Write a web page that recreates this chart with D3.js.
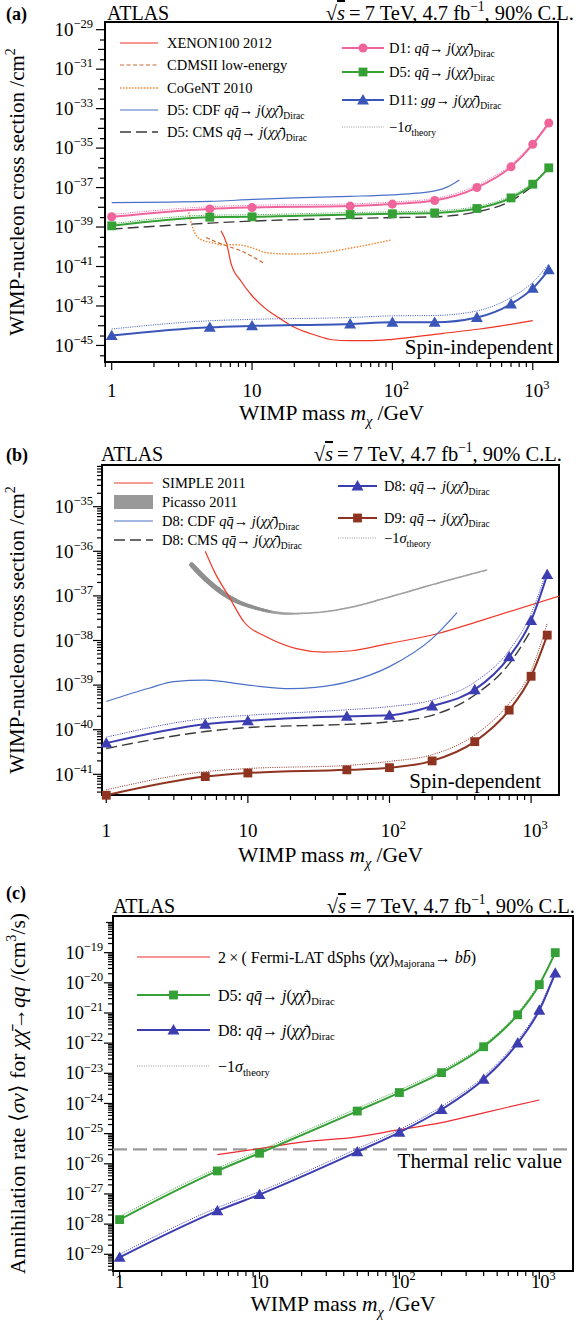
<!DOCTYPE html>
<html><head><meta charset="utf-8">
<script src="https://cdn.jsdelivr.net/npm/d3@7"></script>
<style>
body{margin:0;background:#fff;}
svg{display:block;font-family:"Liberation Serif","Times New Roman",serif;}
</style></head><body>
<svg id="c" width="578" height="1320"></svg>
<script>
// ---------------- DATA ----------------
const mass = [1, 5, 10, 50, 100, 200, 400, 700, 1000, 1300];
const massCMS = [1, 5, 10, 50, 100, 200, 400, 700, 1000];

// (a) spin-independent
const siD1   = [3.3e-39, 8.3e-39, 9.8e-39, 1.15e-38, 1.45e-38, 2.2e-38, 1.0e-37, 1.12e-36, 1.55e-35, 1.86e-34];
const siD1m  = [4.3e-39, 1.07e-38, 1.26e-38, 1.48e-38, 1.86e-38, 2.8e-38, 1.32e-37, 1.48e-36, 1.9e-35, 2.1e-34];
const siD5   = [1.15e-39, 3.16e-39, 3.3e-39, 4.3e-39, 4.7e-39, 5.2e-39, 8.7e-39, 3.0e-38, 1.48e-37, 1.0e-36];
const siD5m  = [1.45e-39, 4.0e-39, 4.2e-39, 5.4e-39, 5.9e-39, 6.6e-39, 1.1e-38, 3.8e-38, 1.78e-37, 1.12e-36];
const siD11  = [3.16e-45, 8.3e-45, 9.8e-45, 1.23e-44, 1.48e-44, 1.48e-44, 2.6e-44, 1.26e-43, 7.8e-43, 6.8e-42];
const siD11m = [6.8e-45, 1.78e-44, 2.1e-44, 2.6e-44, 3.16e-44, 3.3e-44, 5.6e-44, 2.7e-43, 1.58e-42, 1.35e-41];
const siCMS  = [7.9e-40, 1.58e-39, 2.0e-39, 2.7e-39, 3.0e-39, 3.3e-39, 5.9e-39, 2.1e-38, 1.2e-37];
const siCDFmass = [1, 5, 10, 20, 50, 100, 150, 200, 250, 300];
const siCDF  = [1.74e-38, 2.0e-38, 2.5e-38, 3.0e-38, 3.6e-38, 4.3e-38, 5.2e-38, 6.8e-38, 1.12e-37, 2.4e-37];
const xenonMass = [6.0, 6.6, 7.1, 8.3, 10, 12.6, 16, 20, 28, 37, 50, 68, 100, 230, 420, 1000];
const xenon  = [6.5e-40, 1.4e-40, 1.35e-41, 1.9e-42, 3.3e-43, 6.9e-44, 2.2e-44, 8.3e-45, 3.4e-45, 1.95e-45, 1.75e-45, 1.75e-45, 2.05e-45, 4.1e-45, 6.8e-45, 1.8e-44];
const cdmsMass = [4.7, 6.1, 8.3, 12.2];
const cdms   = [2.95e-40, 1.35e-40, 6.3e-41, 1.45e-41];
const cogentMass = [3.5, 3.66, 3.9, 4.25, 5.1, 6.1, 7.8, 9.9, 12.6, 18, 27.6, 50, 98];
const cogent = [7.9e-39, 2.0e-39, 5.2e-40, 2.45e-40, 1.66e-40, 1.26e-40, 1.26e-40, 9.1e-41, 5.1e-41, 4.3e-41, 4.6e-41, 8.5e-41, 2.2e-40];

// (b) spin-dependent
const sdD8   = [5.0e-41, 1.32e-40, 1.58e-40, 2.0e-40, 2.1e-40, 3.4e-40, 7.9e-40, 4.3e-39, 2.8e-38, 3.0e-37];
const sdD8m  = [6.8e-41, 1.78e-40, 2.1e-40, 2.8e-40, 3.3e-40, 4.6e-40, 1.17e-39, 6.0e-39, 4.0e-38, 4.1e-37];
const sdD9   = [3.4e-42, 8.9e-42, 1.07e-41, 1.26e-41, 1.41e-41, 2.0e-41, 5.4e-41, 2.75e-40, 1.58e-39, 1.32e-38];
const sdD9m  = [4.5e-42, 1.15e-41, 1.35e-41, 1.58e-41, 1.95e-41, 2.75e-41, 7.6e-41, 3.9e-40, 2.1e-39, 2.45e-38];
const sdCMS  = [3.8e-41, 9.1e-41, 1.12e-40, 1.32e-40, 1.5e-40, 2.1e-40, 6.0e-40, 3.0e-39, 1.7e-38];
const sdCDFmass = [1, 2, 3, 5, 10, 20, 30, 50, 100, 200, 300];
const sdCDF  = [4.3e-40, 8.5e-40, 1.2e-39, 1.29e-39, 1.0e-39, 8.3e-40, 8.9e-40, 1.17e-39, 2.6e-39, 1.1e-38, 4.2e-38];
const simpleMass = [5.0, 5.8, 7.4, 9.4, 13.6, 22, 34.5, 54, 98, 210, 442, 1600];
const simple = [1.0e-36, 3.5e-37, 9.3e-38, 2.6e-38, 1.2e-38, 6.6e-39, 5.5e-39, 5.9e-39, 8.5e-39, 1.38e-38, 2.8e-38, 1.0e-37];
const picassoMass = [4.0, 5.17, 7.4, 12, 19.4, 29.6, 54, 98, 210, 485];
const picasso = [5.0e-37, 2.2e-37, 9.3e-38, 5.1e-38, 4.0e-38, 4.2e-38, 5.6e-38, 9.3e-38, 1.86e-37, 3.8e-37];

// (c) annihilation rate
const annD5  = [1.41e-28, 5.8e-27, 2.24e-26, 5.6e-25, 2.3e-24, 1.05e-23, 7.6e-23, 8.7e-22, 8.7e-21, 1.0e-19];
const annD5m = [1.78e-28, 7.1e-27, 2.75e-26, 6.9e-25, 2.8e-24, 1.26e-23, 8.9e-23, 1.0e-21, 1.0e-20, 1.07e-19];
const annD8  = [7.9e-30, 2.75e-28, 9.5e-28, 2.5e-26, 1.1e-25, 6.3e-25, 6.3e-24, 1.0e-22, 1.23e-21, 2.1e-20];
const annD8m = [1.0e-29, 3.5e-28, 1.2e-27, 3.16e-26, 1.35e-25, 7.9e-25, 7.9e-24, 1.26e-22, 1.5e-21, 2.5e-20];
const fermiMass = [5, 10, 20, 50, 100, 200, 400, 1000];
const fermi  = [2.0e-26, 3.2e-26, 5.2e-26, 7.8e-26, 1.35e-25, 2.3e-25, 4.9e-25, 1.3e-24];
const thermalRelic = 3e-26;

// tick labels
const xTickVals = [1, 10, 100, 1000];
const xTickExp  = [null, null, "2", "3"];
const siTickExp = [-29, -31, -33, -35, -37, -39, -41, -43, -45];
const sdTickExp = [-35, -36, -37, -38, -39, -40, -41];
const annTickExp = [-19, -20, -21, -22, -23, -24, -25, -26, -27, -28, -29];

// ---------------- HELPERS ----------------
const FONT = '"Liberation Serif","Times New Roman",serif';
const svg = d3.select('#c');
svg.append('rect').attr('width', 578).attr('height', 1320).attr('fill', '#fff');

function rich(g, x, y, parts, fs, anchor) {
  const t = g.append('text').attr('x', x).attr('y', y).attr('font-size', fs)
    .attr('font-family', FONT)
    .attr('text-anchor', anchor || 'start').attr('fill', '#000');
  let cur = 0;
  for (const [s, k] of parts) {
    const sp = t.append('tspan').text(s);
    let off = 0, size = fs;
    if (k === 'i') sp.attr('font-style', 'italic');
    if (k === 'b') sp.attr('font-weight', 'bold');
    if (k === 'sub' || k === 'isub') { off = fs * 0.3; size = fs * 0.66; }
    if (k === 'sup') { off = -fs * 0.42; size = fs * 0.66; }
    if (k === 'isub') sp.attr('font-style', 'italic');
    if (k === 'ov') sp.attr('font-style', 'italic').attr('text-decoration', 'overline');
    if (size !== fs) sp.attr('font-size', size);
    if (off !== cur) { sp.attr('dy', off - cur); cur = off; }
  }
  return t;
}

const QQ = [['q', 'i'], ['q\u0304', 'i'], ['\u2192 ', 'n'], ['j', 'i'], ['(', 'n'], ['\u03c7\u03c7\u0304', 'i'], [')', 'n'], ['Dirac', 'sub']];
const SIGMA = [['\u22121', 'n'], ['\u03c3', 'i'], ['theory', 'sub']];

let clipN = 0;
function makePanel(p) {
  const g = svg.append('g');
  const [L, T, R, B] = p.box;
  const x = d3.scaleLog().domain(p.xDomain).range([L, R]);
  const y = d3.scaleLog().domain(p.yDomain).range([B, T]);
  const id = 'clip' + (clipN++);
  svg.append('clipPath').attr('id', id).append('rect')
    .attr('x', L).attr('y', T).attr('width', R - L).attr('height', B - T);
  const P = { g, x, y, clip: 'url(#' + id + ')', L, T, R, B };

  // x ticks
  const xt = g.append('g').attr('stroke', '#000').attr('stroke-width', 1.2);
  for (let d = -1; d <= 4; d++) for (let m = 1; m <= 9; m++) {
    const v = m * Math.pow(10, d);
    if (v < p.xDomain[0] || v > p.xDomain[1]) continue;
    const len = m === 1 ? 8 : 5;
    xt.append('line').attr('x1', x(v)).attr('x2', x(v)).attr('y1', B).attr('y2', B + len);
  }
  xTickVals.forEach((v, i) => {
    const parts = xTickExp[i] ? [['10', 'n'], [xTickExp[i], 'sup']] : [[String(v), 'n']];
    rich(g, x(v) + (xTickExp[i] ? 4 : 0), p.xLabY, parts, p.tickFs, 'middle');
  });

  // y ticks
  const yt = g.append('g').attr('stroke', '#000').attr('stroke-width', 1.2);
  const lo = Math.floor(Math.log10(p.yDomain[0])), hi = Math.ceil(Math.log10(p.yDomain[1]));
  for (let d = lo; d <= hi; d++) {
    [1].concat(p.yMinor).forEach(m => {
      const v = m * Math.pow(10, d);
      if (v < p.yDomain[0] || v > p.yDomain[1]) return;
      const len = (m === 1 && p.yLabelExp.includes(d)) ? 9 : (m === 1 ? 7 : 5);
      yt.append('line').attr('x1', L - len).attr('x2', L).attr('y1', y(v)).attr('y2', y(v));
    });
  }
  p.yLabelExp.forEach(e => {
    rich(g, p.yLabX, y(Math.pow(10, e)) + p.tickFs * 0.33,
      [['10', 'n'], ['\u2212' + Math.abs(e), 'sup']], p.tickFs, 'end');
  });

  // frame
  g.append('rect').attr('x', L).attr('y', T).attr('width', R - L).attr('height', B - T)
    .attr('fill', 'none').attr('stroke', '#000').attr('stroke-width', 2);

  // header
  rich(g, 6, p.tagY, [[p.tag, 'b']], 18, 'start');
  rich(g, p.atlasX, p.headY, [['ATLAS', 'n']], 20, 'start');
  rich(g, p.headR, p.headY, [['\u221a', 'n'], ['s', 'ov'], ['\u2009=\u20097 TeV, 4.7 fb', 'n'], ['\u22121', 'sup'], [', 90% C.L.', 'n']], 20.5, 'end');

  // axis titles
  rich(g, (L + R) / 2, p.xTitleY, [['WIMP mass ', 'n'], ['m', 'i'], ['\u03c7', 'isub'], [' /GeV', 'n']], 21.5, 'middle');
  const yt2 = rich(g, 0, 0, p.yTitle, p.yTitleFs, 'middle');
  yt2.attr('transform', `translate(${p.yTitleX},${(T + B) / 2}) rotate(-90)`);
  return P;
}

function curve(P, xs, ys, st) {
  const line = d3.line().x(d => P.x(d[0])).y(d => P.y(d[1])).curve(d3.curveMonotoneX);
  const path = P.g.append('path').attr('d', line(xs.map((v, i) => [v, ys[i]])))
    .attr('fill', 'none').attr('clip-path', P.clip)
    .attr('stroke', st.c).attr('stroke-width', st.w || 1.2);
  if (st.dash) path.attr('stroke-dasharray', st.dash);
  return path;
}

const symType = { circle: d3.symbolCircle, square: d3.symbolSquare, triangle: d3.symbolTriangle };
const symSize = { circle: 64, square: 78, triangle: 62 };
function markers(P, xs, ys, type, color) {
  const s = d3.symbol().type(symType[type]).size(symSize[type]);
  xs.forEach((v, i) => {
    P.g.append('path').attr('d', s()).attr('fill', color)
      .attr('transform', `translate(${P.x(v)},${P.y(ys[i]) + (type === 'triangle' ? 1 : 0)})`);
  });
}

function legend(P, x0, x1, y, st, marker, parts, tx, fs) {
  if (st.rect) {
    P.g.append('rect').attr('x', x0).attr('y', y - 7).attr('width', x1 - x0).attr('height', 14).attr('fill', st.c);
  } else {
    const l = P.g.append('line').attr('x1', x0).attr('x2', x1).attr('y1', y).attr('y2', y)
      .attr('stroke', st.c).attr('stroke-width', st.w || 1.2);
    if (st.dash) l.attr('stroke-dasharray', st.dash);
  }
  if (marker) {
    const s = d3.symbol().type(symType[marker]).size(symSize[marker]);
    P.g.append('path').attr('d', s()).attr('fill', st.c)
      .attr('transform', `translate(${(x0 + x1) / 2},${y + (marker === 'triangle' ? 1 : 0)})`);
  }
  const f = fs || 14.5;
  rich(P.g, tx, y + f * 0.35, parts, f, 'start');
}

function sigmaStyle(c) { return { c, w: 1, dash: '1,1.3' }; }

// ---------------- PANEL (a) ----------------
const cPink = '#f0649c', cGreen = '#35a035', cBlueA = '#3a56b8', cCDF = '#4a70c8',
      cRed = '#ee3322', cCdms = '#cc6a30', cCog = '#f5822a', cCMS = '#3a3a3a',
      cIndigo = '#3c3db0', cBrown = '#8e3320', cGray = '#999';

const A = makePanel({
  box: [105, 22, 558, 362], xDomain: [0.896, 1513], yDomain: [1.45e-46, 2.45e-29],
  yMinor: [3], yLabelExp: siTickExp, yLabX: 93, tickFs: 19, xLabY: 397,
  tag: '(a)', tagY: 20, atlasX: 107, headY: 20, headR: 574, xTitleY: 420,
  yTitleX: 24, yTitleFs: 21, yTitle: [['WIMP-nucleon cross section /cm', 'n'], ['2', 'sup']]
});
curve(A, xenonMass, xenon, { c: cRed, w: 1.2 });
curve(A, cdmsMass, cdms, { c: cCdms, w: 1.2, dash: '4,2.5' });
curve(A, cogentMass, cogent, { c: cCog, w: 1.4, dash: '1.5,1.5' });
curve(A, siCDFmass, siCDF, { c: cCDF, w: 1.2 });
curve(A, massCMS, siCMS, { c: cCMS, w: 1.4, dash: '11,5' });
curve(A, mass, siD1m, sigmaStyle(cPink));
curve(A, mass, siD5m, sigmaStyle(cGreen));
curve(A, mass, siD11m, sigmaStyle(cBlueA));
curve(A, mass, siD1, { c: cPink, w: 2 });
curve(A, mass, siD5, { c: cGreen, w: 2 });
curve(A, mass, siD11, { c: cBlueA, w: 2 });
markers(A, mass, siD1, 'circle', cPink);
markers(A, mass, siD5, 'square', cGreen);
markers(A, mass, siD11, 'triangle', cBlueA);
rich(A.g, 553, 354, [['Spin-independent', 'n']], 21, 'end');

legend(A, 120, 158, 43, { c: cRed }, null, [['XENON100 2012', 'n']], 167);
legend(A, 120, 158, 65, { c: cCdms, dash: '4,2.5' }, null, [['CDMSII low-energy', 'n']], 167);
legend(A, 120, 158, 88, { c: cCog, w: 1.4, dash: '1.5,1.5' }, null, [['CoGeNT 2010', 'n']], 167);
legend(A, 120, 158, 110, { c: cCDF }, null, [['D5: CDF ', 'n']].concat(QQ), 167);
legend(A, 120, 158, 132, { c: cCMS, w: 1.4, dash: '11,5' }, null, [['D5: CMS ', 'n']].concat(QQ), 167);
legend(A, 342, 384, 48, { c: cPink, w: 2 }, 'circle', [['D1: ', 'n']].concat(QQ), 389);
legend(A, 342, 384, 72, { c: cGreen, w: 2 }, 'square', [['D5: ', 'n']].concat(QQ), 389);
legend(A, 342, 384, 100, { c: cBlueA, w: 2 }, 'triangle', [['D11: ', 'n'], ['gg', 'i']].concat(QQ.slice(2)), 389);
legend(A, 342, 384, 127, sigmaStyle(cGray), null, SIGMA, 389);

// ---------------- PANEL (b) ----------------
const Bp = makePanel({
  box: [102, 465, 559, 795], xDomain: [0.933, 1574], yDomain: [3.44e-42, 8.6e-35],
  yMinor: [2, 3, 4, 5, 6, 7, 8, 9], yLabelExp: sdTickExp, yLabX: 93, tickFs: 19, xLabY: 837,
  tag: '(b)', tagY: 461, atlasX: 101, headY: 461, headR: 562, xTitleY: 862,
  yTitleX: 24, yTitleFs: 21, yTitle: [['WIMP-nucleon cross section /cm', 'n'], ['2', 'sup']]
});
// Picasso band: tapered thick grey curve
(function () {
  const line = d3.line().x(d => Bp.x(d[0])).y(d => Bp.y(d[1])).curve(d3.curveMonotoneX);
  const tmp = Bp.g.append('path').attr('d', line(picassoMass.map((v, i) => [v, picasso[i]]))).attr('fill', 'none');
  const node = tmp.node(), len = node.getTotalLength(), N = 120;
  const gg = Bp.g.append('g').attr('clip-path', Bp.clip);
  for (let i = 0; i < N; i++) {
    const a = node.getPointAtLength(len * i / N), b = node.getPointAtLength(len * (i + 1) / N);
    const f = i / N;
    const w = f < 0.12 ? 5 : (f < 0.4 ? 5 - (f - 0.12) / 0.28 * 3.5 : 1.5);
    gg.append('line').attr('x1', a.x).attr('y1', a.y).attr('x2', b.x).attr('y2', b.y)
      .attr('stroke', f < 0.3 ? '#8f8f8f' : '#a0a0a0').attr('stroke-width', w).attr('stroke-linecap', 'round');
  }
  tmp.remove();
})();
curve(Bp, simpleMass, simple, { c: '#f03a28', w: 1.2 });
curve(Bp, sdCDFmass, sdCDF, { c: cCDF, w: 1.2 });
curve(Bp, massCMS, sdCMS, { c: cCMS, w: 1.4, dash: '11,5' });
curve(Bp, mass, sdD8m, sigmaStyle(cIndigo));
curve(Bp, mass, sdD9m, sigmaStyle(cBrown));
curve(Bp, mass, sdD8, { c: cIndigo, w: 2 });
curve(Bp, mass, sdD9, { c: cBrown, w: 2 });
markers(Bp, mass, sdD8, 'triangle', cIndigo);
markers(Bp, mass, sdD9, 'square', cBrown);
rich(Bp.g, 541, 788, [['Spin-dependent', 'n']], 21, 'end');

legend(Bp, 114, 153, 483, { c: '#f03a28' }, null, [['SIMPLE 2011', 'n']], 162);
legend(Bp, 114, 153, 502, { c: cGray, rect: true }, null, [['Picasso 2011', 'n']], 162);
legend(Bp, 114, 153, 521, { c: cCDF }, null, [['D8: CDF ', 'n']].concat(QQ), 162);
legend(Bp, 114, 153, 540, { c: cCMS, w: 1.4, dash: '11,5' }, null, [['D8: CMS ', 'n']].concat(QQ), 162);
legend(Bp, 338, 377, 486, { c: cIndigo, w: 2 }, 'triangle', [['D8: ', 'n']].concat(QQ), 384);
legend(Bp, 338, 377, 518, { c: cBrown, w: 2 }, 'square', [['D9: ', 'n']].concat(QQ), 384);
legend(Bp, 338, 377, 538, sigmaStyle(cGray), null, SIGMA, 384);

// ---------------- PANEL (c) ----------------
const C = makePanel({
  box: [113, 916, 573, 1271], xDomain: [0.897, 1741], yDomain: [2.79e-30, 1.64e-18],
  yMinor: [2, 3, 4, 5, 6, 7, 8, 9], yLabelExp: annTickExp, yLabX: 103, tickFs: 18.5, xLabY: 1288,
  tag: '(c)', tagY: 899, atlasX: 113, headY: 913, headR: 575, xTitleY: 1311,
  yTitleX: 25, yTitleFs: 21.5,
  yTitle: [['Annihilation rate \u27e8', 'n'], ['\u03c3v', 'i'], ['\u27e9 for ', 'n'], ['\u03c7\u03c7\u0304', 'i'], ['\u2192', 'n'], ['qq', 'i'], [' /(cm', 'n'], ['3', 'sup'], ['/s)', 'n']]
});
C.g.append('line').attr('x1', C.L).attr('x2', C.R).attr('y1', C.y(thermalRelic)).attr('y2', C.y(thermalRelic))
  .attr('stroke', '#999').attr('stroke-width', 2.2).attr('stroke-dasharray', '14,6');
rich(C.g, 562, C.y(thermalRelic) + 19, [['Thermal relic value', 'n']], 21, 'end');
curve(C, fermiMass, fermi, { c: '#ee2a30', w: 1.2 });
curve(C, mass, annD5m, sigmaStyle(cGreen));
curve(C, mass, annD8m, sigmaStyle(cIndigo));
curve(C, mass, annD5, { c: cGreen, w: 2 });
curve(C, mass, annD8, { c: cIndigo, w: 2 });
markers(C, mass, annD5, 'square', cGreen);
markers(C, mass, annD8, 'triangle', cIndigo);

legend(C, 137, 210, 957, { c: '#ee2a30' }, null,
  [['2\u2009\u00d7\u2009( Fermi-LAT d', 'n'], ['S', 'i'], ['phs (', 'n'], ['\u03c7\u03c7', 'i'], [')', 'n'], ['Majorana', 'sub'], ['\u2192 ', 'n'], ['bb\u0304', 'i'], [')', 'n']], 218, 16);
legend(C, 137, 210, 995, { c: cGreen, w: 2 }, 'square', [['D5: ', 'n']].concat(QQ), 218, 16);
legend(C, 137, 210, 1030, { c: cIndigo, w: 2 }, 'triangle', [['D8: ', 'n']].concat(QQ), 218, 16);
legend(C, 137, 210, 1066, sigmaStyle(cGray), null, SIGMA, 218, 16);
</script>
</body></html>
